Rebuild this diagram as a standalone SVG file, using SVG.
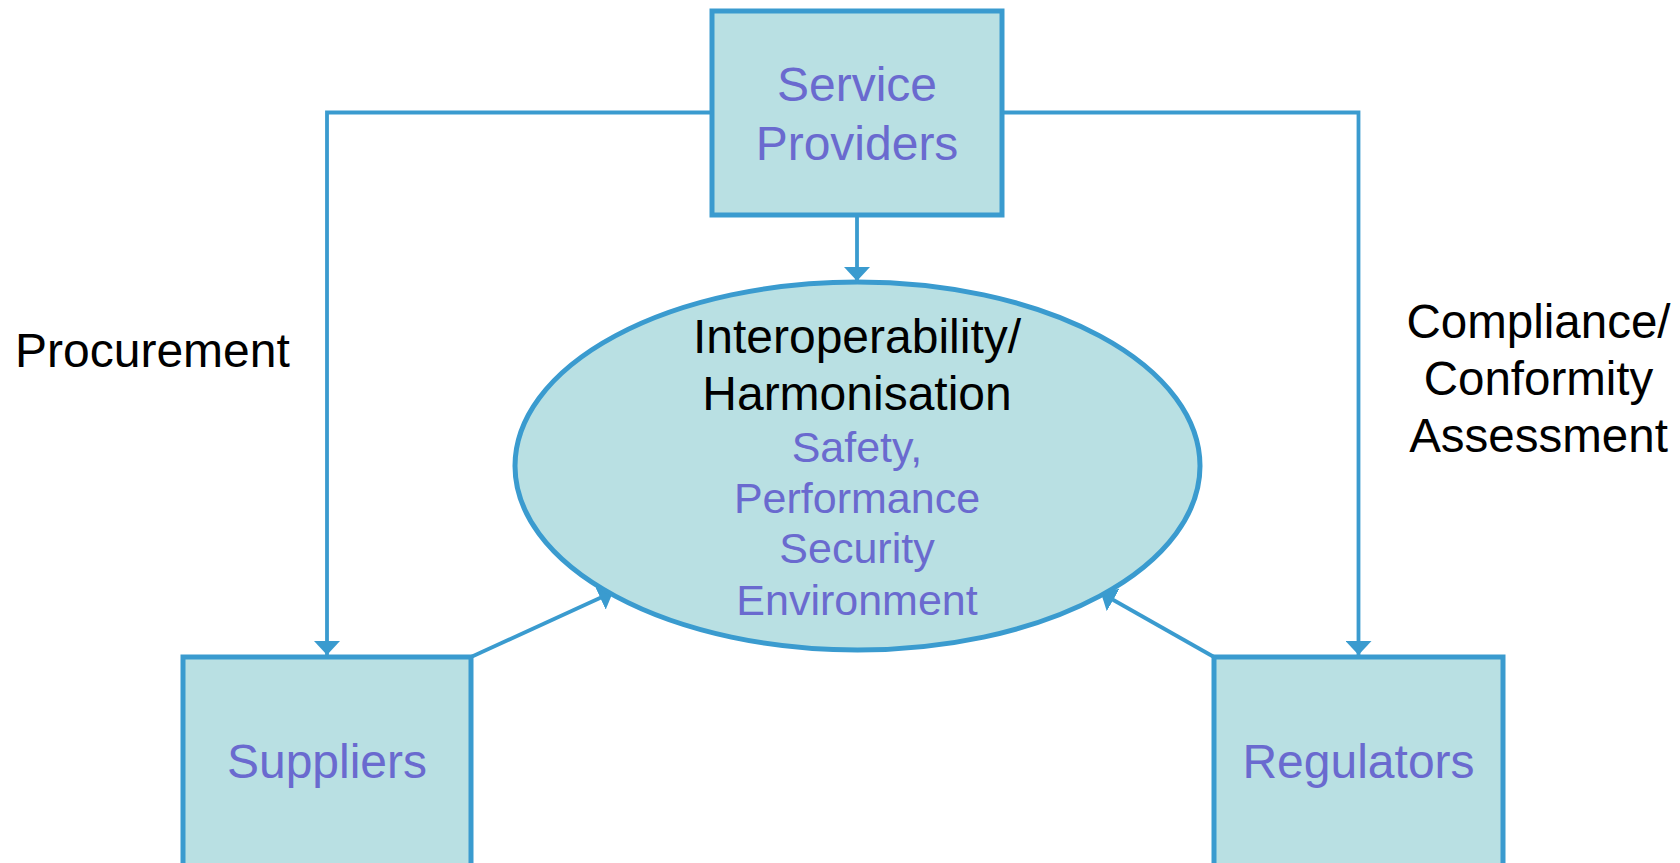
<svg xmlns="http://www.w3.org/2000/svg" width="1680" height="863" viewBox="0 0 1680 863">
<style>
.box{fill:#B9E0E3;stroke:#3A9BCF;stroke-width:5}
.conn{fill:none;stroke:#3A9BCF;stroke-width:3.8}
.t{font-family:"Liberation Sans",Arial,sans-serif;text-anchor:middle}
.p{fill:#6A6ACF}
.k{fill:#000000}
</style>
<defs>
<marker id="ah" viewBox="0 0 14 26" refX="14" refY="13" markerWidth="14" markerHeight="26" markerUnits="userSpaceOnUse" orient="auto">
<path d="M0,0 L14,13 L0,26 Z" fill="#3A9BCF"/>
</marker>
</defs>
<rect width="1680" height="863" fill="#ffffff"/>
<g id="connectors">
<path class="conn" d="M712,112.5 H327 V655" marker-end="url(#ah)"/>
<path class="conn" d="M1002,112.5 H1358.5 V655" marker-end="url(#ah)"/>
<path class="conn" d="M857,215 V281" marker-end="url(#ah)"/>
<path class="conn" d="M471,657 L613,592" marker-end="url(#ah)"/>
<path class="conn" d="M1214,657 L1101,593" marker-end="url(#ah)"/>
</g>
<g id="service-providers">
<rect class="box" x="712" y="11" width="290" height="204"/>
<text class="t p" x="857" y="101" font-size="48">Service</text>
<text class="t p" x="857" y="160" font-size="48">Providers</text>
</g>
<g id="interoperability">
<ellipse class="box" cx="857.5" cy="466" rx="342.5" ry="184"/>
<text class="t k" x="857" y="353" font-size="48">Interoperability/</text>
<text class="t k" x="857" y="410" font-size="48">Harmonisation</text>
<text class="t p" x="857" y="462" font-size="43">Safety,</text>
<text class="t p" x="857" y="513" font-size="43">Performance</text>
<text class="t p" x="857" y="563" font-size="43">Security</text>
<text class="t p" x="857" y="615" font-size="43">Environment</text>
</g>
<g id="suppliers">
<rect class="box" x="183" y="657" width="288" height="215"/>
<text class="t p" x="327" y="778" font-size="48">Suppliers</text>
</g>
<g id="regulators">
<rect class="box" x="1214" y="657" width="289" height="215"/>
<text class="t p" x="1358.5" y="778" font-size="48">Regulators</text>
</g>
<g id="label-procurement">
<text class="k" x="15" y="367" font-size="48" font-family="Liberation Sans, Arial, sans-serif">Procurement</text>
</g>
<g id="label-compliance">
<text class="t k" x="1538.5" y="338" font-size="47.5">Compliance/</text>
<text class="t k" x="1538.5" y="395" font-size="47.5">Conformity</text>
<text class="t k" x="1538.5" y="452" font-size="47.5">Assessment</text>
</g>
</svg>
